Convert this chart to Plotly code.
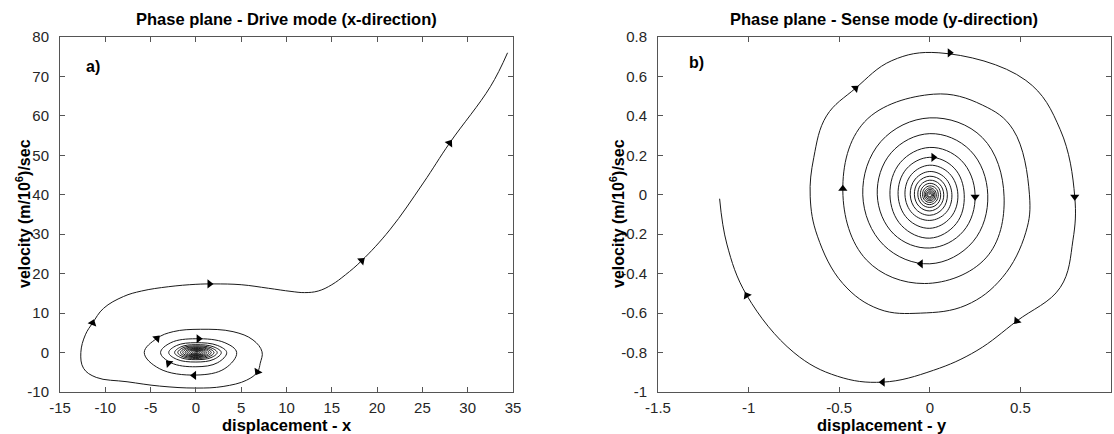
import plotly.graph_objects as go

FONT = "Liberation Sans, Arial, sans-serif"

# ---------------- (a) Drive mode (x-direction) ----------------
# inner spiral: crossing values per turn (outward), top/right/bottom/left
drive_top    = [0.15, 0.3, 0.45, 0.6, 0.75, 0.9, 1.05, 1.25, 1.45, 1.7, 2.0, 2.5, 3.5]
drive_right  = [0.2, 0.4, 0.6, 0.8, 1.0, 1.2, 1.45, 1.7, 2.0, 2.35, 2.8, 3.4, 4.5]
drive_bottom = [-0.15, -0.3, -0.45, -0.6, -0.75, -0.9, -1.05, -1.25, -1.5, -1.8, -2.4, -3.6, -5.7]
drive_left   = [-0.2, -0.4, -0.6, -0.8, -1.0, -1.2, -1.45, -1.7, -2.0, -2.35, -3.0, -3.9, -5.7]
# diagonal points of each turn (x and y offsets)
drive_diag_rx = [0.14, 0.28, 0.43, 0.57, 0.71, 0.85, 1.03, 1.21, 1.42, 1.67, 1.99, 2.41, 3.2]
drive_diag_ty = [0.11, 0.21, 0.32, 0.43, 0.53, 0.64, 0.75, 0.89, 1.03, 1.21, 1.42, 1.78, 2.49]
drive_diag_by = [-0.11, -0.21, -0.32, -0.43, -0.53, -0.64, -0.75, -0.89, -1.07, -1.28, -1.7, -2.56, -4.05]
drive_diag_lx = [-0.14, -0.28, -0.43, -0.57, -0.71, -0.85, -1.03, -1.21, -1.42, -1.67, -2.13, -2.77, -4.05]
drive_diag_tly = [0.21, 0.32, 0.43, 0.53, 0.64, 0.75, 0.89, 1.03, 1.21, 1.42, 1.78, 2.49]
# last loop and escape branch
drive_outer_x = [-4.3, -2.5, 0.5, 4.1, 6.3, 7.3, 7.1, 6.8, 5.6, 3.0, 0.0, -4.0, -7.6, -11.0,
                 -12.4, -12.7, -12.2, -11.4, -10.2, -8.0, -6.0, -3.0, 0.0, 2.0, 5.0, 8.0, 10.5,
                 12.0, 13.5, 15.0, 16.5, 18.3, 21.4, 25.1, 28.0, 32.5, 34.4]
drive_outer_y = [3.6, 5.3, 5.9, 5.3, 3.2, 0.2, -2.7, -4.9, -7.0, -8.6, -9.0, -8.5, -7.4, -6.3,
                 -4.0, 0.0, 4.5, 7.5, 11.2, 14.2, 15.6, 16.7, 17.3, 17.4, 17.2, 16.3, 15.5,
                 15.2, 15.6, 17.2, 19.7, 23.3, 31.1, 43.0, 53.1, 67.4, 76.0]
drive_arrow_x = [-11.4, 1.5, 18.3, 28.0, -4.3, 0.3, -3.0, -0.2, 6.8]
drive_arrow_y = [7.5, 17.4, 23.3, 53.1, 3.6, 3.5, -2.7, -5.8, -4.9]
drive_arrow_dir = [20, 90, 49, 35, 45, 90, 315, 270, 210]

# ---------------- (b) Sense mode (y-direction) ----------------
# inner spiral turns (outward): axis crossings and diagonal offsets
sense_top    = [0.008, 0.014, 0.02, 0.027, 0.035, 0.045, 0.058, 0.074, 0.094, 0.118, 0.15, 0.19, 0.24, 0.31]
sense_right  = [0.009, 0.015, 0.021, 0.028, 0.036, 0.047, 0.06, 0.077, 0.097, 0.122, 0.155, 0.19, 0.25, 0.32]
sense_bottom = [-0.01, -0.016, -0.023, -0.03, -0.039, -0.05, -0.064, -0.082, -0.104, -0.13, -0.17, -0.22, -0.27, -0.35]
sense_left   = [-0.011, -0.017, -0.024, -0.031, -0.04, -0.052, -0.066, -0.085, -0.108, -0.137, -0.175, -0.22, -0.29, -0.37]
sense_diag_tr = [0.006, 0.010, 0.015, 0.020, 0.025, 0.033, 0.042, 0.054, 0.068, 0.085, 0.108, 0.135, 0.174, 0.224]
sense_diag_br = [0.007, 0.011, 0.016, 0.021, 0.027, 0.034, 0.044, 0.056, 0.071, 0.090, 0.115, 0.146, 0.185, 0.238]
sense_diag_bl = [0.008, 0.012, 0.017, 0.022, 0.028, 0.036, 0.046, 0.059, 0.075, 0.095, 0.122, 0.156, 0.199, 0.255]
sense_diag_tl = [0.009, 0.013, 0.018, 0.023, 0.030, 0.039, 0.050, 0.064, 0.080, 0.102, 0.130, 0.163, 0.213, 0.27]
# outer turns
sense_outer_x = [0.0, 0.29, 0.41, 0.31, -0.03, -0.35, -0.48, -0.36,
                 0.02, 0.29, 0.46, 0.55, 0.53, 0.40, 0.20, -0.05, -0.28, -0.48, -0.62, -0.66,
                 -0.64, -0.57, -0.41, -0.21, 0.05, 0.53, 0.72, 0.80, 0.79, 0.72, 0.48, 0.26,
                 0.02, -0.26, -0.51, -0.75, -1.01, -1.12, -1.16]
sense_outer_y = [0.39, 0.29, -0.01, -0.32, -0.45, -0.33, 0.02, 0.37,
                 0.51, 0.455, 0.33, 0.0, -0.19, -0.42, -0.56, -0.60, -0.58, -0.45, -0.21, -0.01,
                 0.19, 0.40, 0.54, 0.68, 0.72, 0.58, 0.33, -0.01, -0.23, -0.47, -0.64, -0.79,
                 -0.89, -0.95, -0.92, -0.80, -0.51, -0.25, -0.02]
sense_arrow_x = [0.11, -0.41, 0.80, 0.48, -0.26, -1.01, -0.48, 0.02, 0.25, -0.05]
sense_arrow_y = [0.72, 0.54, -0.01, -0.64, -0.95, -0.51, 0.03, 0.19, -0.01, -0.35]
sense_arrow_dir = [90, 50, 180, 222, 270, 330, 0, 90, 180, 270]

drive_xticks = [-15, -10, -5, 0, 5, 10, 15, 20, 25, 30, 35]
drive_yticks = [-10, 0, 10, 20, 30, 40, 50, 60, 70, 80]
sense_xticks = [-1.5, -1, -0.5, 0, 0.5, 1]
sense_xtext = ["-1.5", "-1", "-0.5", "0", "0.5", "1"]
sense_yticks = [-1, -0.8, -0.6, -0.4, -0.2, 0, 0.2, 0.4, 0.6, 0.8]
sense_ytext = ["-1", "-0.8", "-0.6", "-0.4", "-0.2", "0", "0.2", "0.4", "0.6", "0.8"]


def drive_path():
    xs, ys = [0.0], [0.0]
    n = len(drive_top)
    for k in range(n):
        xs += [0.0, drive_diag_rx[k], drive_right[k], drive_diag_rx[k], 0.0, drive_diag_lx[k], drive_left[k]]
        ys += [drive_top[k], drive_diag_ty[k], 0.0, drive_diag_by[k], drive_bottom[k], drive_diag_by[k], 0.0]
        if k < len(drive_diag_tly):
            xs.append(drive_diag_lx[k])
            ys.append(drive_diag_tly[k])
    return xs + drive_outer_x, ys + drive_outer_y


def sense_path():
    xs, ys = [0.0], [0.0]
    for t, tr, r, br, b, bl, l, tl in zip(sense_top, sense_diag_tr, sense_right, sense_diag_br,
                                          sense_bottom, sense_diag_bl, sense_left, sense_diag_tl):
        xs += [0.0, tr, r, br, 0.0, -bl, l, -tl]
        ys += [t, tr, 0.0, -br, b, -bl, 0.0, tl]
    return xs + sense_outer_x, ys + sense_outer_y


dx, dy = drive_path()
sx, sy = sense_path()

fig = go.Figure()
line = dict(color="#1a1a1a", width=1, shape="spline", smoothing=1.1)
fig.add_trace(go.Scatter(x=dx, y=dy, mode="lines", line=line, xaxis="x", yaxis="y", hoverinfo="skip"))
fig.add_trace(go.Scatter(x=sx, y=sy, mode="lines", line=line, xaxis="x2", yaxis="y2", hoverinfo="skip"))
fig.add_trace(go.Scatter(x=drive_arrow_x, y=drive_arrow_y, mode="markers", xaxis="x", yaxis="y",
                         marker=dict(symbol="triangle-up", size=8, color="black", angle=drive_arrow_dir,
                                     line=dict(width=0)), hoverinfo="skip"))
fig.add_trace(go.Scatter(x=sense_arrow_x, y=sense_arrow_y, mode="markers", xaxis="x2", yaxis="y2",
                         marker=dict(symbol="triangle-up", size=8, color="black", angle=sense_arrow_dir,
                                     line=dict(width=0)), hoverinfo="skip"))

W, H = 1114, 434
axis_common = dict(showline=True, linecolor="#555555", linewidth=1, mirror="ticks", ticks="inside",
                   ticklen=5, tickcolor="#555555", showgrid=False, zeroline=False, automargin=False,
                   tickfont=dict(family=FONT, size=15, color="#262626"))
ydom = [1 - 392 / H, 1 - 37 / H]

fig.update_layout(
    width=W, height=H, margin=dict(l=0, r=0, t=0, b=0, pad=0), autosize=False,
    paper_bgcolor="white", plot_bgcolor="white", showlegend=False,
    xaxis=dict(domain=[60 / W, 513 / W], range=[-15, 35], tickvals=drive_xticks,
               ticktext=[str(v) for v in drive_xticks], anchor="y", ticklabelstandoff=2, **axis_common),
    yaxis=dict(domain=ydom, range=[-10, 80], tickvals=drive_yticks,
               ticktext=[str(v) for v in drive_yticks], anchor="x", ticklabelstandoff=7, **axis_common),
    xaxis2=dict(domain=[658 / W, 1111 / W], range=[-1.5, 1], tickvals=sense_xticks,
                ticktext=sense_xtext, anchor="y2", ticklabelstandoff=2, **axis_common),
    yaxis2=dict(domain=ydom, range=[-1, 0.8], tickvals=sense_yticks,
                ticktext=sense_ytext, anchor="x2", ticklabelstandoff=7, **axis_common),
)

bold = lambda s: dict(family=FONT, size=s, color="black")
ann = [
    dict(text="<b>Phase plane - Drive mode (x-direction)</b>", x=286 / W, y=1 - 19 / H, font=bold(16.5)),
    dict(text="<b>Phase plane - Sense mode (y-direction)</b>", x=884 / W, y=1 - 19 / H, font=bold(16.5)),
    dict(text="<b>displacement - x</b>", x=287 / W, y=1 - 425 / H, font=bold(16.5)),
    dict(text="<b>displacement - y</b>", x=882 / W, y=1 - 425 / H, font=bold(16.5)),
    dict(text="<b>velocity (m/10<sup>6</sup>)/sec</b>", x=23 / W, y=1 - 214 / H, font=bold(16), textangle=-90),
    dict(text="<b>velocity (m/10<sup>6</sup>)/sec</b>", x=617 / W, y=1 - 214 / H, font=bold(16), textangle=-90),
]
for a in ann:
    a.update(xref="paper", yref="paper", xanchor="center", yanchor="middle", showarrow=False)
    fig.add_annotation(**a)
fig.add_annotation(text="<b>a)</b>", x=-11.4, y=72.6, xref="x", yref="y", showarrow=False,
                   font=bold(16), xanchor="center", yanchor="middle")
fig.add_annotation(text="<b>b)</b>", x=-1.29, y=0.67, xref="x2", yref="y2", showarrow=False,
                   font=bold(16), xanchor="center", yanchor="middle")

fig.write_html("out.html")
